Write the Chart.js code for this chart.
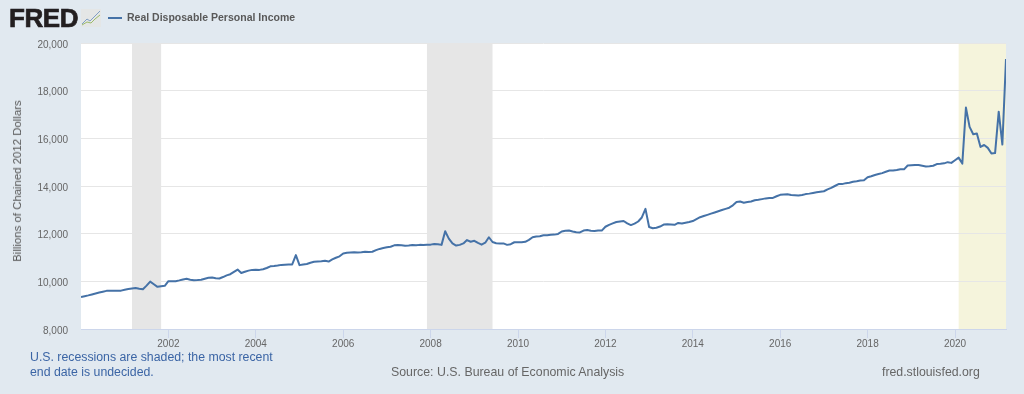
<!DOCTYPE html>
<html><head><meta charset="utf-8">
<script src="https://cdn.jsdelivr.net/npm/chart.js@4"></script>
<style>
html,body{margin:0;padding:0;background:#e1e9f0;width:1024px;height:394px;overflow:hidden;font-family:"Liberation Sans",Arial,sans-serif}
#wrap{position:absolute;left:0;top:0;width:1024px;height:394px}
.t{position:absolute;white-space:nowrap}
#logo{left:9px;top:3px;font-size:26px;font-weight:bold;color:#231f20;letter-spacing:-0.4px;-webkit-text-stroke:.7px #231f20}
#icon{position:absolute;left:81px;top:9px}
#swatch{position:absolute;left:108px;top:17px;width:14px;height:2px;background:#4572a7}
#legend{left:127px;top:11px;font-size:10.5px;font-weight:bold;color:#595959}
#ytitle{left:17px;top:181px;font-size:11.4px;color:#555;transform:translate(-50%,-50%) rotate(-90deg)}
#note{left:30px;top:350px;font-size:12.3px;line-height:15px;color:#3b65a5}
#source{left:391px;top:365px;font-size:12.35px;color:#666}
#site{left:882px;top:365px;font-size:12.3px;color:#666}
</style></head>
<body>
<div id="wrap">
<canvas id="c" width="1024" height="394" style="position:absolute;left:0;top:0;width:1024px;height:394px"></canvas>
<div class="t" id="logo">FRED</div>
<svg id="icon" width="20" height="18" viewBox="0 0 20 18"><rect width="20" height="18" fill="#e4e6e6"/><polyline points="1,15 6,10 9,12 14,7 19,2" fill="none" stroke="#7f9fc4" stroke-width="1"/><polyline points="1,16 6,13 10,14 14,10 19,6" fill="none" stroke="#9dbb6a" stroke-width="1"/></svg>
<div id="swatch"></div>
<div class="t" id="legend">Real Disposable Personal Income</div>
<div class="t" id="ytitle">Billions of Chained 2012 Dollars</div>
<div class="t" id="note">U.S. recessions are shaded; the most recent<br>end date is undecided.</div>
<div class="t" id="source">Source: U.S. Bureau of Economic Analysis</div>
<div class="t" id="site">fred.stlouisfed.org</div>
</div>
<script>
const startYear = 2000;
const income2000 = [9340,9375,9410,9450,9490,9530,9565,9600,9600,9600,9605,9610];
const income2001 = [9650,9680,9700,9720,9690,9670,9820,9990,9880,9770,9790,9810];
const income2002 = [10005,10000,10005,10040,10080,10105,10070,10050,10055,10065,10110,10150];
const income2003 = [10160,10130,10120,10180,10250,10300,10400,10495,10350,10400,10450,10480];
const income2004 = [10490,10480,10510,10560,10630,10640,10660,10690,10700,10705,10710,11100];
const income2005 = [10680,10710,10730,10780,10820,10830,10840,10860,10830,10920,10990,11050];
const income2006 = [11170,11200,11210,11220,11210,11220,11240,11230,11240,11310,11360,11400];
const income2007 = [11430,11450,11510,11520,11510,11490,11500,11520,11510,11530,11520,11530];
const income2008 = [11540,11570,11560,11530,12100,11790,11590,11500,11530,11590,11730,11660];
const income2009 = [11700,11610,11540,11620,11850,11650,11600,11590,11590,11530,11560,11640];
const income2010 = [11640,11640,11660,11740,11850,11880,11890,11930,11930,11950,11960,11990];
const income2011 = [12090,12120,12130,12090,12060,12050,12130,12150,12120,12110,12130,12130];
const income2012 = [12290,12370,12430,12490,12510,12530,12430,12360,12420,12510,12680,13040];
const income2013 = [12280,12230,12250,12300,12380,12390,12380,12370,12450,12430,12460,12490];
const income2014 = [12530,12610,12690,12740,12790,12840,12890,12940,12990,13040,13090,13190];
const income2015 = [13330,13350,13300,13330,13350,13400,13420,13450,13480,13500,13500,13570];
const income2016 = [13630,13640,13650,13620,13610,13600,13620,13660,13680,13710,13740,13760];
const income2017 = [13780,13860,13920,14000,14080,14080,14120,14140,14180,14200,14230,14240];
const income2018 = [14370,14410,14460,14500,14540,14600,14650,14650,14670,14700,14700,14860];
const income2019 = [14870,14880,14880,14850,14820,14830,14850,14920,14930,14950,15000,14970];
const income2020 = [15080,15190,14940,17290,16480,16170,16200,15640,15720,15600,15360,15380];
const income2021 = [17120,15740,19330];
const tickYears = [2002,2004,2006,2008,2010,2012,2014,2016,2018,2020];
const recessionStarts = [2001+2/12, 2007+11/12, 2020+1/12];
const recessionEnds = [2001+10/12, 2009+5/12, 2021+2/12];

const allIncome = [].concat(income2000,income2001,income2002,income2003,income2004,income2005,income2006,income2007,income2008,income2009,income2010,income2011,income2012,income2013,income2014,income2015,income2016,income2017,income2018,income2019,income2020,income2021);
const points = allIncome.map((v,i)=>({x:startYear+i/12,y:v}));

const bands = {
  id:'bands',
  beforeDraw(chart){
    const {ctx,chartArea:a,scales:{x}} = chart;
    ctx.save();
    ctx.fillStyle='#ffffff';
    ctx.fillRect(a.left,a.top,a.width,a.height);
    recessionStarts.forEach((s,i)=>{
      const l=x.getPixelForValue(s), r=x.getPixelForValue(recessionEnds[i]);
      ctx.fillStyle = i===2 ? '#f5f4dc' : '#e6e6e6';
      ctx.fillRect(l,a.top,r-l,a.height);
    });
    ctx.restore();
  }
};

new Chart(document.getElementById('c'),{
  type:'line',
  data:{datasets:[{data:points,borderColor:'#4572a7',borderWidth:2,pointRadius:0,tension:0,fill:false,borderJoinStyle:'round'}]},
  plugins:[bands],
  options:{
    responsive:false,animation:false,
    layout:{padding:{top:43,right:18,bottom:0,left:0}},
    plugins:{legend:{display:false},tooltip:{enabled:false}},
    scales:{
      x:{type:'linear',min:startYear,max:2021+2/12,
        afterBuildTicks(s){s.ticks=tickYears.map(v=>({value:v}));},
        afterFit(s){s.height=65;},
        grid:{drawOnChartArea:false,drawTicks:true,tickLength:9,color:'#ccd6eb'},
        border:{color:'#ccd6eb'},
        ticks:{maxRotation:0,autoSkip:false,padding:0,color:'#666',font:{family:'"Liberation Sans"',size:10},callback:v=>String(v)}},
      y:{min:8000,max:20000,
        afterFit(s){s.width=81;},
        grid:{color:'#e6e6e6',drawTicks:false,lineWidth:1},
        border:{display:false},
        ticks:{stepSize:2000,padding:13,labelOffset:2,color:'#666',font:{family:'"Liberation Sans"',size:10},callback:v=>v.toLocaleString('en-US')}}
    }
  }
});
</script>
</body></html>
